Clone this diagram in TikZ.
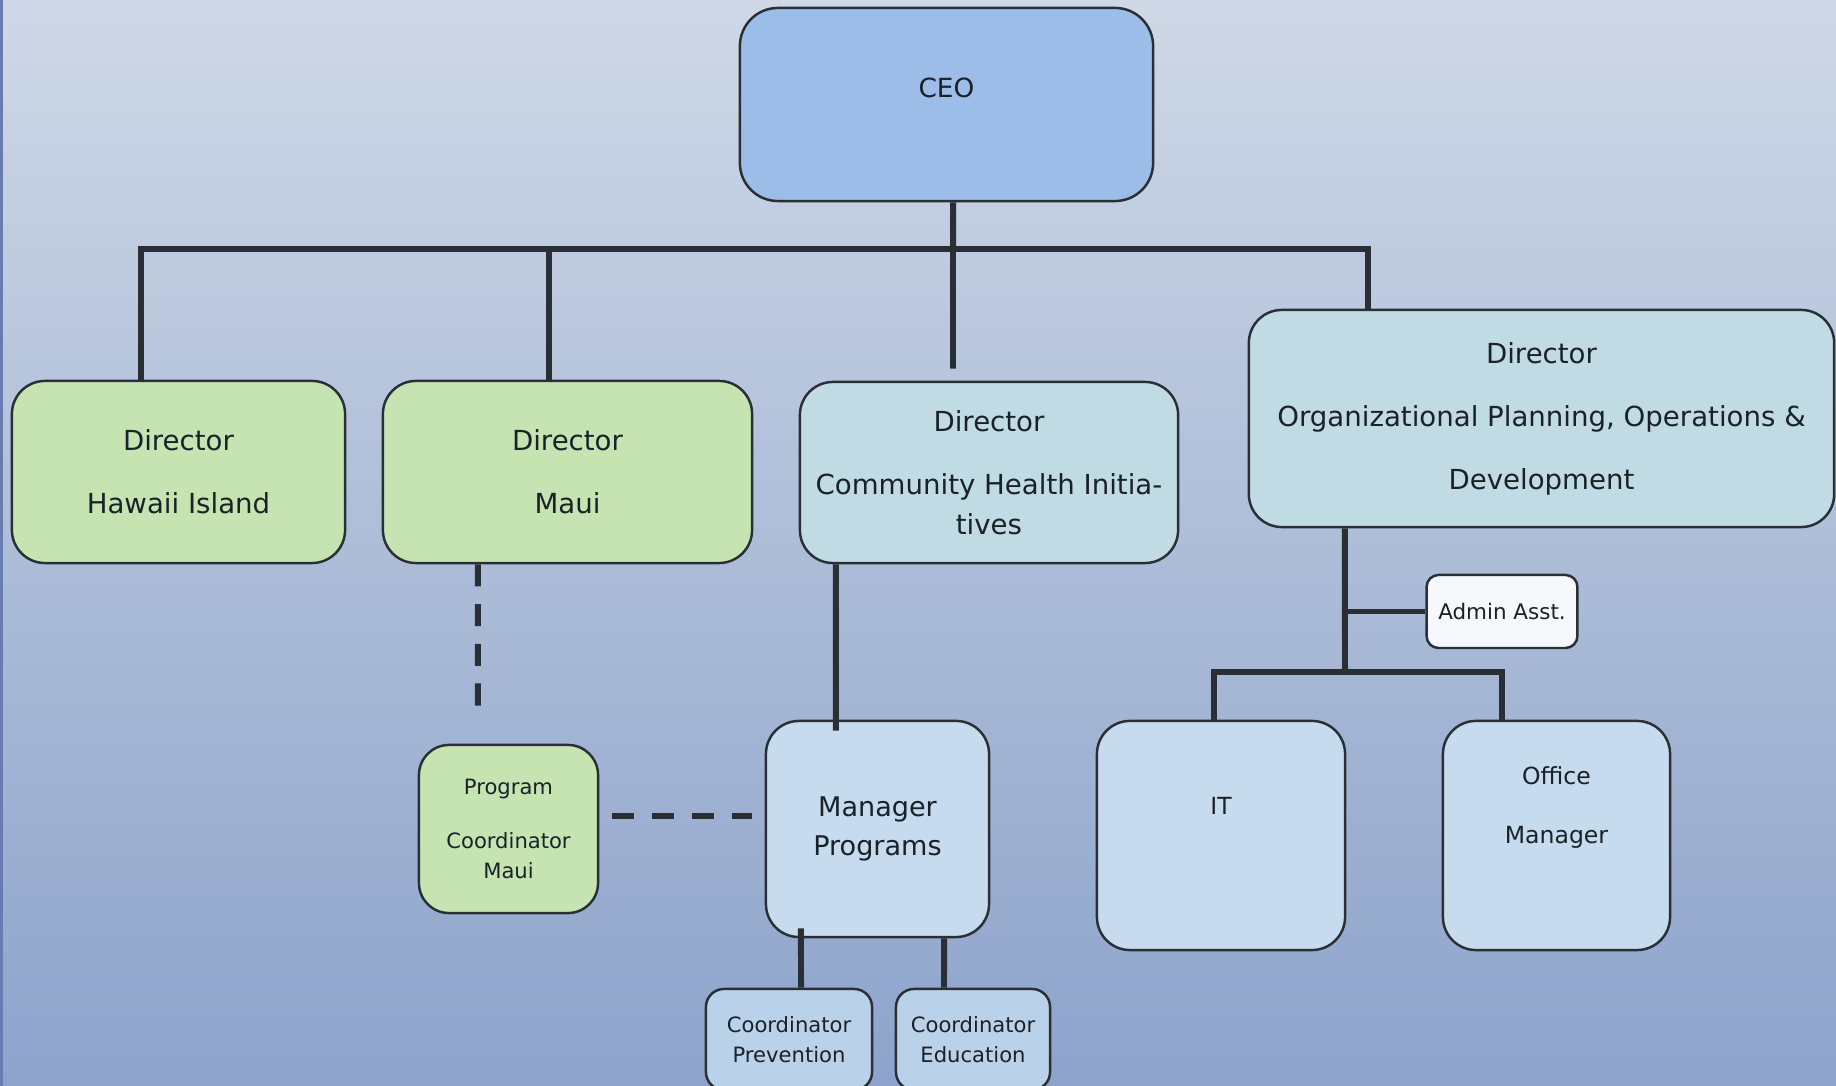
\documentclass[tikz,border=0pt]{standalone}
\usepackage{fontspec}
\setmainfont{DejaVu Sans}
\usepackage{tikz}
\usetikzlibrary{positioning,calc}
\definecolor{bgtop}{RGB}{206,216,230}
\definecolor{bgmid}{RGB}{174,190,216}
\definecolor{bgbot}{RGB}{141,163,203}
\definecolor{edgeblue}{RGB}{104,124,178}
\definecolor{ceoblue}{RGB}{155,189,232}
\definecolor{dirgreen}{RGB}{197,228,178}
\definecolor{dirteal}{RGB}{192,219,228}
\definecolor{mgrblue}{RGB}{198,219,238}
\definecolor{crdblue}{RGB}{186,209,234}
\definecolor{asstwhite}{RGB}{246,248,251}
\definecolor{linegray}{RGB}{42,47,54}
\definecolor{txtgray}{RGB}{26,34,40}
\tikzstyle{box} = [draw=linegray, line width=0.7pt, rounded corners=0.33cm, text=txtgray, align=center, font=\fontsize{7.85}{11.3}\selectfont]
\tikzstyle{smallbox} = [box, rounded corners=0.18cm, font=\fontsize{6}{8.4}\selectfont]
\tikzstyle{conn} = [line width=1.7pt, color=linegray]
\tikzstyle{dashconn} = [conn, dash pattern=on 6.3pt off 5pt]

\begin{document}
\begin{tikzpicture}[x=0.01cm, y=-0.01cm]
    % Background
    \shade[top color=bgtop, middle color=bgmid, bottom color=bgbot] (0,0) rectangle (1836,1086);
    \fill[edgeblue] (0,0) rectangle (3,1086);
    \useasboundingbox (0,0) rectangle (1836,1086);

    % Top level
    \node[box, fill=ceoblue, minimum width=4.13cm, minimum height=1.93cm, rounded corners=0.38cm, text depth=9.5pt, font=\fontsize{7.5}{10.8}\selectfont] (ceo) at (946.5,104.5) {CEO};

    % Directors
    \node[box, fill=dirgreen, minimum width=3.33cm, minimum height=1.82cm] (hawaii) at (178.5,472) {Director\\[6.6pt]Hawaii Island};
    \node[box, fill=dirgreen, minimum width=3.69cm, minimum height=1.82cm] (maui) at (567.5,472) {Director\\[6.6pt]Maui};
    \node[box, fill=dirteal, minimum width=3.78cm, minimum height=1.81cm] (chi) at (989,472.5) {Director\\[6.6pt]Community Health Initia-\\tives};
    \node[box, fill=dirteal, minimum width=5.85cm, minimum height=2.17cm] (opd) at (1541.5,418.5) {Director\\[6.6pt]Organizational Planning, Operations \&\\[6.6pt]Development};

    % Programs
    \node[smallbox, fill=dirgreen, minimum width=1.79cm, minimum height=1.68cm, rounded corners=0.3cm] (pcm) at (508.5,829) {Program\\[7pt]Coordinator\\Maui};
    \node[box, fill=mgrblue, minimum width=2.23cm, minimum height=2.16cm, font=\fontsize{7.7}{11}\selectfont] (mgr) at (877.5,829) {Manager\\Programs};
    \node[smallbox, fill=crdblue, minimum width=1.66cm, minimum height=1.01cm] (prev) at (789,1039.5) {Coordinator\\Prevention};
    \node[smallbox, fill=crdblue, minimum width=1.54cm, minimum height=1.01cm] (edu) at (973,1039.5) {Coordinator\\Education};

    % Operations
    \node[smallbox, fill=asstwhite, minimum width=1.44cm, minimum height=0.73cm, rounded corners=0.12cm, font=\fontsize{6.1}{8.4}\selectfont] (admin) at (1502,611.5) {Admin Asst.};
    \node[box, fill=mgrblue, minimum width=2.48cm, minimum height=2.29cm, font=\fontsize{6.7}{9}\selectfont, text depth=17pt] (it) at (1221,835.5) {IT};
    \node[box, fill=mgrblue, minimum width=2.27cm, minimum height=2.29cm, font=\fontsize{6.7}{9}\selectfont, text depth=17.2pt] (office) at (1556.5,835.5) {Office\\[7.8pt]Manager};

    % CEO branches
    \coordinate (bar) at (953,249);
    \draw[conn] ([xshift=0.065cm]ceo.south) -- (bar);
    \draw[conn] (bar) -| ([xshift=-0.375cm]hawaii.north);
    \draw[conn] (bar) -| ([xshift=-0.185cm]maui.north);
    \draw[conn] (bar) -- ([xshift=-0.36cm,yshift=0.12cm]chi.north);
    \draw[conn] (bar) -| ([xshift=-1.735cm]opd.north);

    % Maui coordinator (dotted line reporting)
    \draw[dashconn] ([xshift=-0.895cm]maui.south) -- ([xshift=-0.305cm,yshift=0.31cm]pcm.north);
    \draw[dashconn] ([xshift=0.13cm,yshift=0.13cm]pcm.east) -- ([xshift=-0.13cm,yshift=0.13cm]mgr.west);

    % Community health
    \draw[conn] ([xshift=-1.53cm]chi.south) -- ([xshift=-0.415cm,yshift=-0.11cm]mgr.north);
    \draw[conn] ([xshift=-0.765cm,yshift=0.1cm]mgr.south) -- ([xshift=0.12cm]prev.north);
    \draw[conn] ([xshift=0.665cm]mgr.south) -- ([xshift=-0.29cm]edu.north);

    % Operations branches
    \coordinate (obar) at (1345,672);
    \draw[conn] ([xshift=-1.965cm]opd.south) -- (obar);
    \draw[conn] (admin.west) -- (admin.west -| obar);
    \draw[conn] (obar) -| ([xshift=-0.07cm]it.north);
    \draw[conn] (obar) -| ([xshift=-0.545cm]office.north);
\end{tikzpicture}
\end{document}
